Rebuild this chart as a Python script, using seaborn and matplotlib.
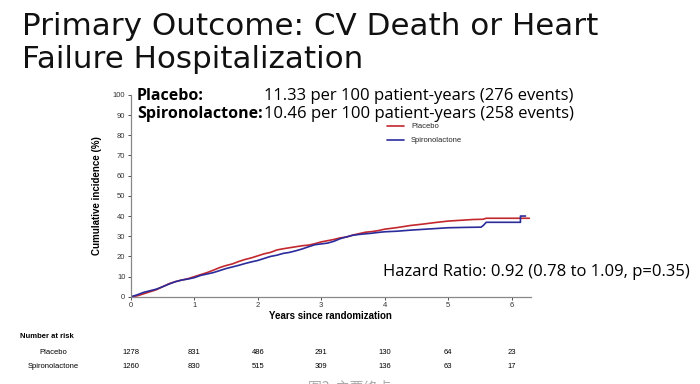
import pandas as pd
import matplotlib.pyplot as plt
import matplotlib.transforms as mtransforms
import seaborn as sns

# Kaplan-Meier style curves (repeated times = vertical steps)
placebo_t = [0, 0.1, 0.2, 0.3, 0.4, 0.5, 0.6, 0.7, 0.8, 0.9, 1.0, 1.1, 1.2, 1.3, 1.4,
             1.5, 1.6, 1.7, 1.8, 1.9, 2.0, 2.1, 2.2, 2.3, 2.4, 2.5, 2.6, 2.7, 2.8, 2.9,
             3.0, 3.1, 3.2, 3.3, 3.4, 3.5, 3.6, 3.7, 3.8, 3.9, 4.0, 4.2, 4.4, 4.6, 4.8,
             5.0, 5.2, 5.4, 5.55, 5.6, 6.28]
placebo_y = [0, 0.5, 1.5, 2.5, 3.5, 5.0, 6.5, 7.5, 8.3, 9.0, 10.0, 11.0, 12.0, 13.2, 14.5,
             15.5, 16.3, 17.5, 18.5, 19.3, 20.3, 21.3, 22.0, 23.2, 23.8, 24.3, 24.8, 25.3, 25.6, 26.3,
             27.2, 27.8, 28.4, 29.2, 29.6, 30.6, 31.3, 32.0, 32.3, 32.8, 33.5, 34.3, 35.3, 36.0, 36.8,
             37.5, 37.9, 38.3, 38.4, 38.9, 38.9]

spiro_t = [0, 0.1, 0.2, 0.3, 0.4, 0.5, 0.6, 0.7, 0.8, 0.9, 1.0, 1.1, 1.2, 1.3, 1.4,
           1.5, 1.6, 1.7, 1.8, 1.9, 2.0, 2.1, 2.2, 2.3, 2.4, 2.5, 2.6, 2.7, 2.8, 2.9,
           3.0, 3.1, 3.2, 3.3, 3.4, 3.5, 3.6, 3.7, 3.8, 3.9, 4.0, 4.2, 4.4, 4.6, 4.8,
           5.0, 5.3, 5.52, 5.56, 5.6, 6.14, 6.14, 6.22]
spiro_y = [0, 1.0, 2.2, 3.0, 3.8, 5.0, 6.3, 7.5, 8.3, 8.8, 9.5, 10.6, 11.3, 12.0, 13.0,
           14.0, 14.8, 15.6, 16.5, 17.3, 18.0, 19.0, 20.0, 20.6, 21.5, 22.0, 22.8, 23.7, 24.8, 25.8,
           26.2, 26.6, 27.5, 28.8, 29.7, 30.5, 30.9, 31.2, 31.5, 31.9, 32.2, 32.5, 33.0, 33.4, 33.8,
           34.2, 34.4, 34.5, 35.5, 36.9, 36.9, 40.0, 40.0]

groups = ['Placebo', 'Spironolactone']
risk_times = [0, 1, 2, 3, 4, 5, 6]
risk_placebo = [1278, 831, 486, 291, 130, 64, 23]
risk_spiro = [1260, 830, 515, 309, 136, 63, 17]

df = pd.concat([
    pd.DataFrame({'t': placebo_t, 'y': placebo_y, 'group': groups[0]}),
    pd.DataFrame({'t': spiro_t, 'y': spiro_y, 'group': groups[1]}),
])

sns.set_style("white")
plt.rcParams['font.family'] = ['Liberation Sans', 'Noto Sans CJK SC', 'DejaVu Sans']

fig = plt.figure(figsize=(7, 3.84), dpi=100)
ax = fig.add_axes([0.187, 0.227, 0.571, 0.526])

sns.lineplot(data=df, x='t', y='y', hue='group', palette=['#c3282e', '#2b2b9c'],
             estimator=None, linewidth=1.2, ax=ax)

ax.set_xlim(0, 6.3)
ax.set_ylim(0, 100)
ax.set_xticks(risk_times)
ax.set_yticks(range(0, 101, 10))
ax.tick_params(labelsize=5.5, length=2, width=0.6, colors='#333333', pad=2, direction='out')
ax.tick_params(axis='x', bottom=True)
ax.tick_params(axis='y', left=True)
for s in ['top', 'right']:
    ax.spines[s].set_visible(False)
for s in ['left', 'bottom']:
    ax.spines[s].set_color('#888888')
    ax.spines[s].set_linewidth(0.9)
ax.set_xlabel('Years since randomization', fontsize=7, fontweight='bold', labelpad=1, color='black')
ax.set_ylabel('Cumulative incidence (%)', fontsize=7, fontweight='bold', labelpad=8, color='black')

ax.legend(loc='upper left', bbox_to_anchor=(0.64, 0.86), frameon=False, fontsize=5.5,
          handlelength=2.2, handletextpad=1.0, labelspacing=0.85, borderaxespad=0, borderpad=0)

# rate text
fig.text(137 / 700, 1 - 96 / 384, 'Placebo:', fontsize=11.5, fontweight='bold',
         family='Open Sans', va='center', color='black')
fig.text(264 / 700, 1 - 96 / 384, '11.33 per 100 patient-years (276 events)', fontsize=12,
         family='Open Sans', va='center', color='black')
fig.text(137 / 700, 1 - 114 / 384, 'Spironolactone:', fontsize=11.5, fontweight='bold',
         family='Open Sans', va='center', color='black')
fig.text(264 / 700, 1 - 114 / 384, '10.46 per 100 patient-years (258 events)', fontsize=12,
         family='Open Sans', va='center', color='black')

fig.text(383 / 700, 1 - 272 / 384, 'Hazard Ratio: 0.92 (0.78 to 1.09, p=0.35)', fontsize=12,
         family='Open Sans', va='center', color='black')

# title
fig.text(22 / 700, 1 - 12 / 384, 'Primary Outcome: CV Death or Heart\nFailure Hospitalization',
         fontsize=22.3, family='DejaVu Sans', va='top', linespacing=1.16, color='#111111')

# number at risk table
trans = mtransforms.blended_transform_factory(ax.transData, fig.transFigure)
fig.text(20 / 700, 1 - 336 / 384, 'Number at risk', fontsize=5.5, fontweight='bold', va='center',
         color='black')
fig.text(53 / 700, 1 - 352 / 384, 'Placebo', fontsize=5.5, ha='center', va='center', color='black')
fig.text(53 / 700, 1 - 367 / 384, 'Spironolactone', fontsize=5.5, ha='center', va='center',
         color='black')
for t, a, b in zip(risk_times, risk_placebo, risk_spiro):
    ax.text(t, 1 - 352 / 384, str(a), transform=trans, fontsize=5.5, ha='center', va='center',
            color='black')
    ax.text(t, 1 - 367 / 384, str(b), transform=trans, fontsize=5.5, ha='center', va='center',
            color='black')

fig.text(350 / 700, 1 - 381 / 384, '图3  主要终点', fontsize=10, color='#aaaaaa',
         ha='center', va='top', family=['Noto Sans CJK SC', 'DejaVu Sans'])

plt.savefig('out.png', dpi=100)
